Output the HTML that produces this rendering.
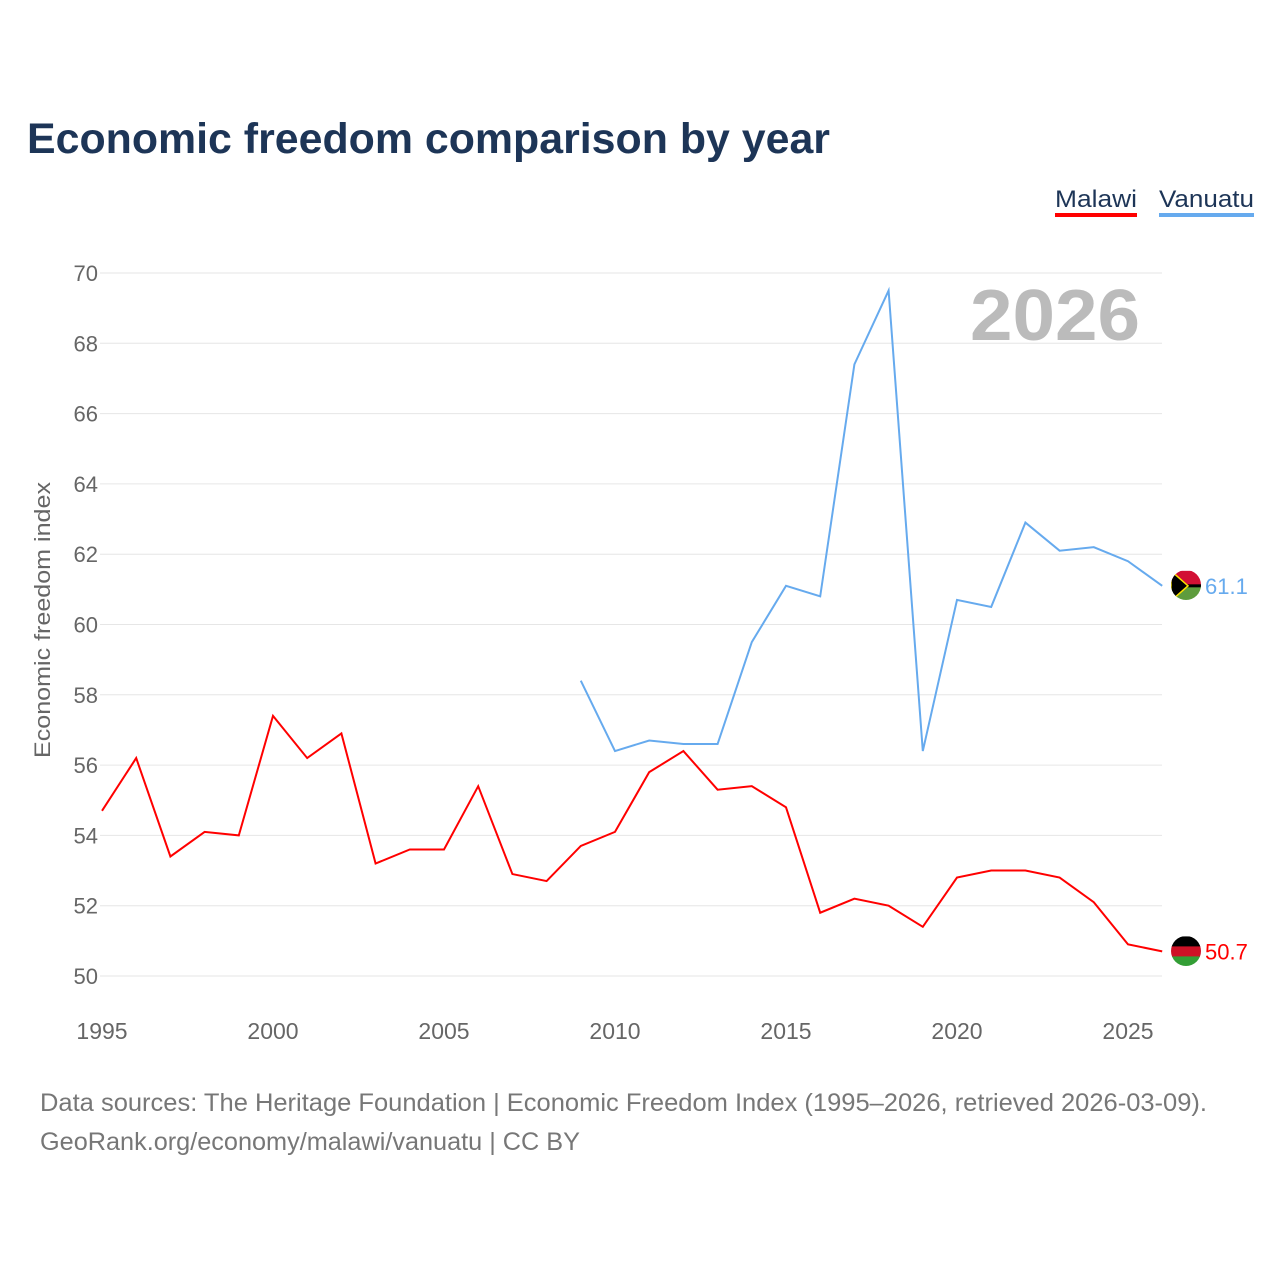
<!DOCTYPE html>
<html><head><meta charset="utf-8"><style>
body{margin:0;background:#fff;width:1280px;height:1280px;overflow:hidden;font-family:"Liberation Sans",sans-serif}
</style></head><body>
<svg id="chart" width="1280" height="1280" xmlns="http://www.w3.org/2000/svg">
<defs>
<clipPath id="cv"><circle cx="1186" cy="585" r="15"/></clipPath>
<clipPath id="cm"><circle cx="1186" cy="951" r="15"/></clipPath>
</defs>
<text x="27" y="153" font-size="43" font-weight="bold" fill="#1d3557" textLength="803" lengthAdjust="spacingAndGlyphs">Economic freedom comparison by year</text>
<g><text x="1055" y="207" font-size="24" fill="#1d3557" textLength="82" lengthAdjust="spacingAndGlyphs">Malawi</text><rect x="1055" y="213" width="82" height="4" fill="#ff0000"/></g>
<g><text x="1159" y="207" font-size="24" fill="#1d3557" textLength="95" lengthAdjust="spacingAndGlyphs">Vanuatu</text><rect x="1159" y="213" width="95" height="4" fill="#66aaee"/></g>
<text x="1140" y="340" font-size="72" font-weight="bold" fill="#bbbbbb" text-anchor="end" textLength="170" lengthAdjust="spacingAndGlyphs">2026</text>
<text transform="translate(50,620) rotate(-90)" font-size="22" fill="#666" text-anchor="middle" textLength="276" lengthAdjust="spacingAndGlyphs">Economic freedom index</text>
<g id="grid"></g><g id="series"></g>
<text x="40" y="1111" font-size="25" fill="#777" textLength="1167" lengthAdjust="spacingAndGlyphs">Data sources: The Heritage Foundation | Economic Freedom Index (1995–2026, retrieved 2026-03-09).</text>
<text x="40" y="1150" font-size="25" fill="#777" textLength="540" lengthAdjust="spacingAndGlyphs">GeoRank.org/economy/malawi/vanuatu | CC BY</text>
</svg>
<script>
const years=[1995,1996,1997,1998,1999,2000,2001,2002,2003,2004,2005,2006,2007,2008,2009,2010,2011,2012,2013,2014,2015,2016,2017,2018,2019,2020,2021,2022,2023,2024,2025,2026];
const malawi=[54.7,56.2,53.4,54.1,54.0,57.4,56.2,56.9,53.2,53.6,53.6,55.4,52.9,52.7,53.7,54.1,55.8,56.4,55.3,55.4,54.8,51.8,52.2,52.0,51.4,52.8,53.0,53.0,52.8,52.1,50.9,50.7];
const vanuatu=[null,null,null,null,null,null,null,null,null,null,null,null,null,null,58.4,56.4,56.7,56.6,56.6,59.5,61.1,60.8,67.4,69.5,56.4,60.7,60.5,62.9,62.1,62.2,61.8,61.1];
const yTicks=[50,52,54,56,58,60,62,64,66,68,70];
const xTicks=[1995,2000,2005,2010,2015,2020,2025];
const NS="http://www.w3.org/2000/svg";
const X=y=>102+(y-1995)*34.2;
const Y=v=>976-(v-50)*35.15;
function mk(t,a,p){const e=document.createElementNS(NS,t);for(const k in a)e.setAttribute(k,a[k]);p.appendChild(e);return e;}
const g=document.getElementById('grid'),s=document.getElementById('series');
yTicks.forEach(v=>{
 const l=mk('line',{x1:100,x2:1162,y1:Y(v),y2:Y(v),stroke:'#e6e6e6','stroke-width':1},g);
 
 
 const t=mk('text',{x:98,y:Y(v)+8,'font-size':22,fill:'#666','text-anchor':'end'},g);t.textContent=v;
 
 
});
xTicks.forEach(v=>{
 const t=mk('text',{x:X(v),y:1039,'font-size':23,fill:'#666','text-anchor':'middle'},g);t.textContent=v;
 
 
});
function line(vals,color,name,stripes,clip){
 let d='';vals.forEach((v,i)=>{if(v==null)return;d+=(d?'L':'M')+X(years[i])+','+Y(v);});
 const p=mk('path',{d:d,fill:'none',stroke:color,'stroke-width':2},s);
 
 
 const last=vals[vals.length-1],cy=Y(last);
 const fg=mk('g',{'clip-path':'url(#'+clip+')'},s);
 
 
 const h=30/stripes.length;
 stripes.forEach((c,i)=>mk('rect',{x:1171,y:cy-15+i*h,width:30,height:h+0.5,fill:c},fg));
 if(name==='vanuatu'){mk('rect',{x:1171,y:cy-1.5,width:30,height:3,fill:'#000'},fg);mk('path',{d:`M1171,${cy-15}L1188,${cy}L1171,${cy+15}Z`,fill:'#000',stroke:'#fce300','stroke-width':1.5},fg);}
 const t=mk('text',{x:1205,y:cy+8,'font-size':22,fill:color},s);t.textContent=last.toFixed(1);
 
 
}
line(vanuatu,'#66aaee','vanuatu',['#d21034','#d21034','#5e9c3d','#5e9c3d'],'cv');
line(malawi,'#ff0000','malawi',['#000','#ce1126','#339e35'],'cm');
</script>
</body></html>
